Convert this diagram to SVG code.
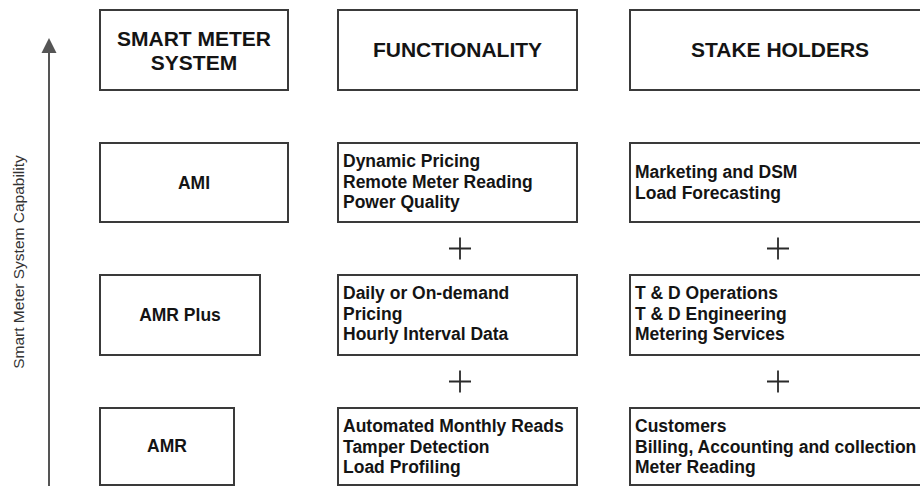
<svg xmlns="http://www.w3.org/2000/svg" width="920" height="486" viewBox="0 0 920 486">
  <style>
    .box { fill: #ffffff; stroke: #3a3a3a; stroke-width: 2; }
    .head { font-family: "Liberation Sans", Arial, sans-serif; font-weight: bold; font-size: 21px; fill: #141414; text-anchor: middle; }
    .lbl { font-family: "Liberation Sans", Arial, sans-serif; font-weight: bold; font-size: 17.5px; fill: #141414; text-anchor: middle; }
    .body { font-family: "Liberation Sans", Arial, sans-serif; font-weight: bold; font-size: 17.5px; fill: #141414; }
    .axis { font-family: "Liberation Sans", Arial, sans-serif; font-size: 15.5px; fill: #333333; text-anchor: middle; }
    .plus { stroke: #2a2a2a; stroke-width: 1.8; fill: none; }
    .axisline { stroke: #555555; stroke-width: 2; fill: none; }
  </style>
  <defs>
    <marker id="arrowhead" markerWidth="16" markerHeight="16" refX="7.5" refY="0" orient="auto-start-reverse" markerUnits="userSpaceOnUse" viewBox="0 -1 15 16">
      <path d="M0,15 L7.5,0 L15,15 Z" fill="#555555"/>
    </marker>
  </defs>
  <rect width="920" height="486" fill="#ffffff"/>

  <!-- capability axis -->
  <g id="connectors">
    <line class="axisline" x1="49" y1="486" x2="49" y2="52"/>
    <path d="M41.5,53 L49,38 L56.5,53 Z" fill="#555555"/>
    <text class="axis" transform="translate(24,262) rotate(-90)">Smart Meter System Capability</text>
    <!-- plus signs between rows -->
    <path class="plus" d="M449,248.5 H471 M460,237.5 V259.5"/>
    <path class="plus" d="M767,248.5 H789 M778,237.5 V259.5"/>
    <path class="plus" d="M449,381.5 H471 M460,370.5 V392.5"/>
    <path class="plus" d="M767,381.5 H789 M778,370.5 V392.5"/>
  </g>

  <!-- column headers -->
  <g id="hdr-system">
    <rect class="box" x="100" y="10" width="188" height="80"/>
    <text class="head" x="194" y="46">SMART METER</text>
    <text class="head" x="194" y="70">SYSTEM</text>
  </g>
  <g id="hdr-functionality">
    <rect class="box" x="338" y="10" width="239" height="80"/>
    <text class="head" x="457.5" y="57">FUNCTIONALITY</text>
  </g>
  <g id="hdr-stakeholders">
    <rect class="box" x="630" y="10" width="296" height="80"/>
    <text class="head" x="780" y="57">STAKE HOLDERS</text>
  </g>

  <!-- AMI row -->
  <g id="sys-ami">
    <rect class="box" x="100" y="143" width="188" height="79"/>
    <text class="lbl" x="194" y="189">AMI</text>
  </g>
  <g id="fn-ami">
    <rect class="box" x="338" y="143" width="239" height="79"/>
    <text class="body" x="343" y="167">Dynamic Pricing</text>
    <text class="body" x="343" y="187.5">Remote Meter Reading</text>
    <text class="body" x="343" y="208">Power Quality</text>
  </g>
  <g id="sh-ami">
    <rect class="box" x="630" y="143" width="296" height="79"/>
    <text class="body" x="635" y="178">Marketing and DSM</text>
    <text class="body" x="635" y="198.5">Load Forecasting</text>
  </g>

  <!-- AMR Plus row -->
  <g id="sys-amrplus">
    <rect class="box" x="100" y="275" width="160" height="80"/>
    <text class="lbl" x="180" y="321">AMR Plus</text>
  </g>
  <g id="fn-amrplus">
    <rect class="box" x="338" y="275" width="239" height="80"/>
    <text class="body" x="343" y="299">Daily or On-demand</text>
    <text class="body" x="343" y="319.5">Pricing</text>
    <text class="body" x="343" y="340">Hourly Interval Data</text>
  </g>
  <g id="sh-amrplus">
    <rect class="box" x="630" y="275" width="296" height="80"/>
    <text class="body" x="635" y="299">T &amp; D Operations</text>
    <text class="body" x="635" y="319.5">T &amp; D Engineering</text>
    <text class="body" x="635" y="340">Metering Services</text>
  </g>

  <!-- AMR row -->
  <g id="sys-amr">
    <rect class="box" x="100" y="408" width="134" height="77"/>
    <text class="lbl" x="167" y="452">AMR</text>
  </g>
  <g id="fn-amr">
    <rect class="box" x="338" y="408" width="239" height="77"/>
    <text class="body" x="343" y="432">Automated Monthly Reads</text>
    <text class="body" x="343" y="452.5">Tamper Detection</text>
    <text class="body" x="343" y="473">Load Profiling</text>
  </g>
  <g id="sh-amr">
    <rect class="box" x="630" y="408" width="296" height="77"/>
    <text class="body" x="635" y="432">Customers</text>
    <text class="body" x="635" y="452.5">Billing, Accounting and collection</text>
    <text class="body" x="635" y="473">Meter Reading</text>
  </g>
</svg>
